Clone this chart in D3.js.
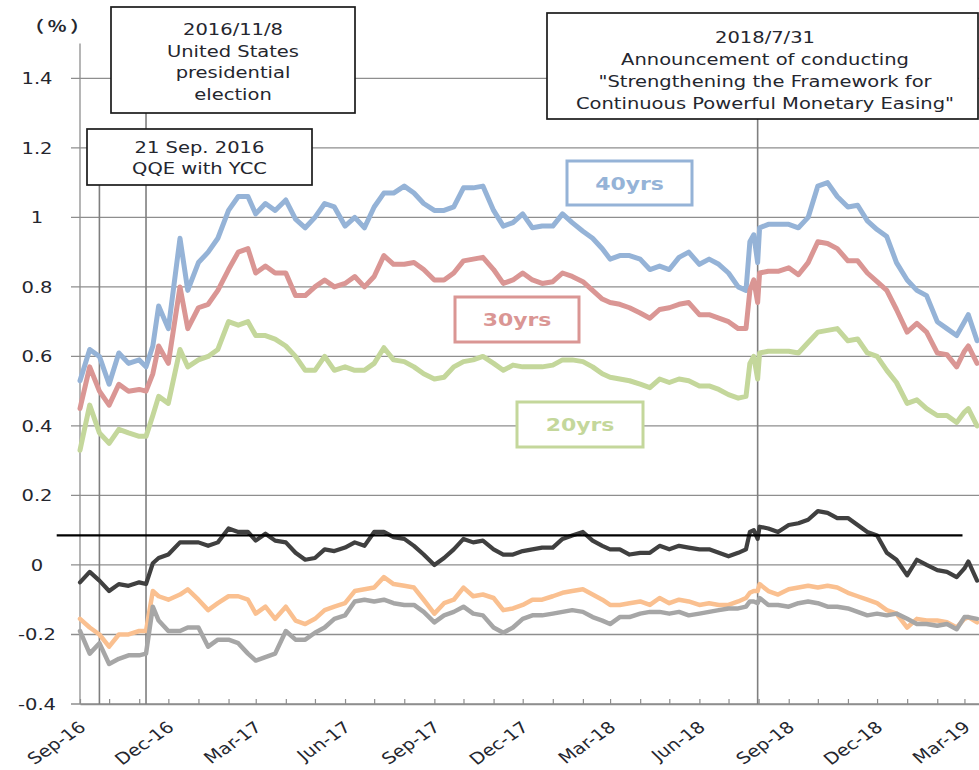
<!DOCTYPE html>
<html><head><meta charset="utf-8">
<script src="https://cdn.jsdelivr.net/npm/d3@7"></script>
<style>
body{margin:0;background:#fff}
svg{display:block}
text{font-family:"DejaVu Sans",Verdana,sans-serif;fill:#24262e}
</style>
</head><body>
<svg id="chart" width="979" height="770"></svg>
<script>
// ---------------- data ----------------
const dates = [
"2016-09-01","2016-09-11","2016-09-21","2016-10-01","2016-10-11","2016-10-21","2016-11-01","2016-11-08","2016-11-15","2016-11-21","2016-12-01","2016-12-13","2016-12-21",
"2017-01-01","2017-01-11","2017-01-21","2017-02-01","2017-02-11","2017-02-21","2017-03-01","2017-03-11","2017-03-21",
"2017-04-01","2017-04-11","2017-04-21","2017-05-01","2017-05-11","2017-05-21","2017-06-01","2017-06-11","2017-06-21",
"2017-07-01","2017-07-11","2017-07-21","2017-08-01","2017-08-11","2017-08-21","2017-09-01","2017-09-11","2017-09-21",
"2017-10-01","2017-10-11","2017-10-21","2017-11-01","2017-11-11","2017-11-21","2017-12-01","2017-12-11","2017-12-21",
"2018-01-01","2018-01-11","2018-01-21","2018-02-01","2018-02-11","2018-02-21","2018-03-01","2018-03-11","2018-03-21",
"2018-04-01","2018-04-11","2018-04-21","2018-05-01","2018-05-11","2018-05-21","2018-06-01","2018-06-11","2018-06-21",
"2018-07-01","2018-07-11","2018-07-19","2018-07-23","2018-07-27","2018-07-31","2018-08-02","2018-08-11","2018-08-21",
"2018-09-01","2018-09-11","2018-09-21","2018-10-01","2018-10-11","2018-10-21","2018-11-01","2018-11-11","2018-11-21",
"2018-12-01","2018-12-11","2018-12-21","2019-01-01","2019-01-11","2019-01-21","2019-02-01","2019-02-11","2019-02-21",
"2019-03-01","2019-03-05","2019-03-14"];

const yield40 = [
0.53,0.62,0.60,0.52,0.61,0.58,0.59,0.57,0.63,0.745,0.68,0.94,0.79,
0.87,0.90,0.94,1.02,1.06,1.06,1.01,1.04,1.02,
1.05,0.995,0.97,1.00,1.04,1.03,0.975,1.00,0.97,
1.03,1.07,1.07,1.09,1.07,1.04,1.02,1.02,1.03,
1.085,1.085,1.09,1.02,0.975,0.985,1.01,0.97,0.975,
0.975,1.01,0.985,0.96,0.94,0.91,0.88,0.89,0.89,
0.88,0.85,0.86,0.85,0.885,0.90,0.865,0.88,0.865,
0.84,0.80,0.79,0.93,0.95,0.87,0.97,0.98,0.98,
0.98,0.97,1.00,1.09,1.10,1.06,1.03,1.035,0.99,
0.965,0.945,0.87,0.82,0.79,0.775,0.70,0.68,0.66,
0.70,0.72,0.645];

const yield30 = [
0.45,0.57,0.50,0.46,0.52,0.50,0.505,0.50,0.55,0.63,0.58,0.80,0.68,
0.74,0.75,0.79,0.85,0.90,0.91,0.84,0.86,0.84,
0.84,0.775,0.775,0.80,0.82,0.80,0.81,0.83,0.80,
0.83,0.89,0.865,0.865,0.87,0.85,0.82,0.82,0.84,
0.875,0.88,0.885,0.85,0.81,0.82,0.84,0.82,0.81,
0.815,0.84,0.83,0.815,0.79,0.765,0.755,0.75,0.74,
0.725,0.71,0.735,0.74,0.75,0.755,0.72,0.72,0.71,
0.70,0.68,0.68,0.79,0.82,0.755,0.84,0.845,0.845,
0.855,0.835,0.87,0.93,0.925,0.91,0.875,0.875,0.84,
0.815,0.79,0.735,0.67,0.695,0.67,0.61,0.605,0.57,
0.615,0.63,0.58];

const yield20 = [
0.33,0.46,0.38,0.35,0.39,0.38,0.37,0.37,0.43,0.485,0.465,0.62,0.57,
0.59,0.60,0.62,0.70,0.69,0.70,0.66,0.66,0.65,
0.63,0.60,0.56,0.56,0.60,0.56,0.57,0.56,0.56,
0.58,0.625,0.59,0.585,0.57,0.55,0.535,0.54,0.57,
0.585,0.59,0.60,0.58,0.56,0.575,0.57,0.57,0.57,
0.575,0.59,0.59,0.585,0.57,0.55,0.54,0.535,0.53,
0.52,0.51,0.535,0.525,0.535,0.53,0.515,0.515,0.505,
0.49,0.48,0.485,0.58,0.60,0.535,0.61,0.615,0.615,
0.615,0.61,0.64,0.67,0.675,0.68,0.645,0.65,0.61,
0.60,0.56,0.525,0.465,0.475,0.45,0.43,0.43,0.41,
0.44,0.45,0.40];

const yield10 = [
-0.05,-0.02,-0.045,-0.075,-0.055,-0.06,-0.05,-0.055,0.005,0.02,0.03,0.065,0.065,
0.065,0.055,0.065,0.105,0.095,0.095,0.07,0.09,0.07,
0.065,0.035,0.015,0.02,0.045,0.04,0.05,0.065,0.055,
0.095,0.095,0.08,0.075,0.055,0.03,0.0,0.02,0.045,
0.075,0.065,0.07,0.045,0.03,0.03,0.04,0.045,0.05,
0.05,0.075,0.085,0.095,0.07,0.055,0.045,0.045,0.03,
0.035,0.035,0.055,0.045,0.055,0.05,0.045,0.045,0.035,
0.025,0.035,0.045,0.095,0.10,0.075,0.11,0.105,0.095,
0.115,0.12,0.13,0.155,0.15,0.135,0.135,0.115,0.095,
0.085,0.035,0.015,-0.03,0.015,0.0,-0.015,-0.02,-0.035,
-0.01,0.01,-0.045];

const yield5 = [
-0.155,-0.18,-0.20,-0.235,-0.20,-0.20,-0.19,-0.19,-0.075,-0.09,-0.10,-0.085,-0.07,
-0.10,-0.13,-0.11,-0.09,-0.09,-0.10,-0.14,-0.12,-0.155,
-0.12,-0.16,-0.17,-0.155,-0.13,-0.12,-0.11,-0.075,-0.07,
-0.065,-0.035,-0.055,-0.06,-0.065,-0.10,-0.14,-0.11,-0.10,
-0.065,-0.09,-0.085,-0.095,-0.13,-0.125,-0.115,-0.10,-0.10,
-0.09,-0.08,-0.075,-0.07,-0.085,-0.10,-0.115,-0.115,-0.11,
-0.105,-0.115,-0.095,-0.11,-0.10,-0.105,-0.115,-0.11,-0.115,
-0.115,-0.105,-0.095,-0.08,-0.075,-0.075,-0.055,-0.075,-0.085,
-0.07,-0.065,-0.06,-0.065,-0.06,-0.065,-0.08,-0.09,-0.10,
-0.11,-0.13,-0.14,-0.18,-0.155,-0.16,-0.16,-0.165,-0.18,
-0.155,-0.15,-0.165];

const yield2 = [
-0.19,-0.255,-0.225,-0.285,-0.27,-0.26,-0.26,-0.255,-0.12,-0.16,-0.19,-0.19,-0.18,
-0.18,-0.235,-0.215,-0.215,-0.225,-0.255,-0.275,-0.265,-0.255,
-0.19,-0.215,-0.215,-0.195,-0.18,-0.155,-0.145,-0.105,-0.10,
-0.105,-0.10,-0.11,-0.115,-0.115,-0.135,-0.165,-0.145,-0.135,
-0.12,-0.14,-0.145,-0.18,-0.195,-0.18,-0.155,-0.145,-0.145,
-0.14,-0.135,-0.13,-0.135,-0.15,-0.16,-0.17,-0.15,-0.15,
-0.14,-0.135,-0.135,-0.14,-0.135,-0.145,-0.14,-0.135,-0.13,
-0.125,-0.125,-0.12,-0.105,-0.105,-0.11,-0.095,-0.115,-0.115,
-0.12,-0.11,-0.105,-0.11,-0.12,-0.12,-0.125,-0.135,-0.145,
-0.14,-0.145,-0.14,-0.155,-0.17,-0.17,-0.175,-0.17,-0.185,
-0.15,-0.15,-0.155];

const refLevel = 0.085;
const refStart = "2016-08-08", refEnd = "2019-02-27";

const yTicks = [-0.4,-0.2,0,0.2,0.4,0.6,0.8,1,1.2,1.4];
const yTickLabels = ["-0.4","-0.2","0","0.2","0.4","0.6","0.8","1","1.2","1.4"];
const xLabelDates = ["2016-09-01","2016-12-01","2017-03-01","2017-06-01","2017-09-01","2017-12-01","2018-03-01","2018-06-01","2018-09-01","2018-12-01","2019-03-01"];
const xLabels = ["Sep-16","Dec-16","Mar-17","Jun-17","Sep-17","Dec-17","Mar-18","Jun-18","Sep-18","Dec-18","Mar-19"];

const eventDates = ["2016-09-21","2016-11-08","2018-07-31"];
const noteYCC = ["21 Sep. 2016","QQE with YCC"];
const noteElection = ["2016/11/8","United States","presidential","election"];
const noteEasing = ["2018/7/31","Announcement of conducting","\"Strengthening the Framework for","Continuous Powerful Monetary Easing\""];
const seriesNames = ["40yrs","30yrs","20yrs"];

// ---------------- drawing ----------------
const parse = d3.utcParse("%Y-%m-%d");
const svg = d3.select("#chart");
const SX = 1.22; // horizontal text stretch

const x = d3.scaleUtc().domain([parse("2016-09-01"), parse("2019-03-16")]).range([80, 979]);
const y = d3.scaleLinear().domain([-0.4, 1.5]).range([704, 43.6]);

const gridColor = "#8e8e8e";

svg.append("g").selectAll("line").data(yTicks).join("line")
  .attr("x1", 71).attr("x2", 979)
  .attr("y1", d => y(d)).attr("y2", d => y(d))
  .attr("stroke", gridColor).attr("stroke-width", 1.3);

svg.append("line").attr("x1", 80).attr("x2", 80).attr("y1", y(1.5)).attr("y2", y(-0.4))
  .attr("stroke", gridColor).attr("stroke-width", 1.3);

const xAxisG = svg.append("g").attr("transform", `translate(0,${y(-0.4)})`)
  .call(d3.axisBottom(x).ticks(d3.utcMonth.every(1)).tickSize(-5).tickSizeOuter(0).tickFormat(""));
xAxisG.select(".domain").attr("stroke", gridColor).attr("stroke-width", 1.3);
xAxisG.selectAll(".tick line").attr("stroke", gridColor).attr("stroke-width", 1.2);

function sText(g, cx, cy, str, extra) {
  return g.append("text").attr("transform", `translate(${cx},${cy}) scale(${SX},1)` + (extra || ""))
    .text(str);
}

yTicks.forEach((v, i) => {
  sText(svg, 37, y(v) + 6, yTickLabels[i]).attr("text-anchor", "middle").attr("font-size", 16);
});
sText(svg, 59, 32, "（%）").attr("text-anchor", "middle").attr("font-size", 16)
  .attr("font-weight", "bold").attr("letter-spacing", 3)
  .style("font-family", "'Noto Sans CJK JP','Noto Sans',sans-serif");

xLabelDates.forEach((d, i) => {
  sText(svg, x(parse(d)) + 7, 729, xLabels[i], " rotate(-40)").attr("text-anchor", "end").attr("font-size", 16);
});

const eventTop = [185, 113, 119];
eventDates.forEach((d, i) => {
  svg.append("line").attr("x1", x(parse(d))).attr("x2", x(parse(d)))
    .attr("y1", eventTop[i]).attr("y2", y(-0.4))
    .attr("stroke", "#7f7f7f").attr("stroke-width", 1.6);
});

const series = [
  {vals: yield40, color: "#95b3d7", w: 5},
  {vals: yield30, color: "#da9694", w: 5},
  {vals: yield20, color: "#c4d79b", w: 5},
  {vals: yield5,  color: "#fac090", w: 4.5},
  {vals: yield2,  color: "#a6a6a6", w: 4.5},
  {vals: yield10, color: "#404040", w: 4.2}
];
const line = d3.line().x(d => x(d[0])).y(d => y(d[1]));
series.forEach(s => {
  const pts = dates.map((d, i) => [parse(d), s.vals[i]]);
  svg.append("path").attr("d", line(pts)).attr("fill", "none")
    .attr("stroke", s.color).attr("stroke-width", s.w)
    .attr("stroke-linejoin", "round").attr("stroke-linecap", "round");
});

svg.append("line").attr("x1", x(parse(refStart))).attr("x2", x(parse(refEnd)))
  .attr("y1", y(refLevel)).attr("y2", y(refLevel))
  .attr("stroke", "#000").attr("stroke-width", 2.2);

function noteBox(x0, y0, x1, y1, lines, cx, firstBase, step) {
  const g = svg.append("g");
  g.append("rect").attr("x", x0).attr("y", y0).attr("width", x1 - x0).attr("height", y1 - y0)
    .attr("fill", "#fff").attr("stroke", "#1a1a1a").attr("stroke-width", 1.7);
  lines.forEach((l, i) => {
    sText(g, cx, firstBase + i * step, l).attr("text-anchor", "middle").attr("font-size", 16);
  });
}
noteBox(111, 7, 355, 113, noteElection, 233, 35, 21.6);
noteBox(87, 129, 312, 185, noteYCC, 199.5, 152.5, 21.6);
noteBox(547, 13, 978, 119, noteEasing, 765, 42.5, 22);

const labelBoxes = [
  {x0: 567, y0: 161, x1: 692, y1: 205, color: "#95b3d7"},
  {x0: 455, y0: 297, x1: 579, y1: 342, color: "#da9694"},
  {x0: 517, y0: 402, x1: 643, y1: 447, color: "#c4d79b"}
];
labelBoxes.forEach((b, i) => {
  svg.append("rect").attr("x", b.x0).attr("y", b.y0).attr("width", b.x1 - b.x0).attr("height", b.y1 - b.y0)
    .attr("fill", "#fff").attr("stroke", b.color).attr("stroke-width", 3);
  sText(svg, (b.x0 + b.x1) / 2, (b.y0 + b.y1) / 2 + 6.5, seriesNames[i])
    .attr("text-anchor", "middle").attr("font-size", 18).attr("font-weight", "bold")
    .style("fill", b.color);
});
</script>
</body></html>
